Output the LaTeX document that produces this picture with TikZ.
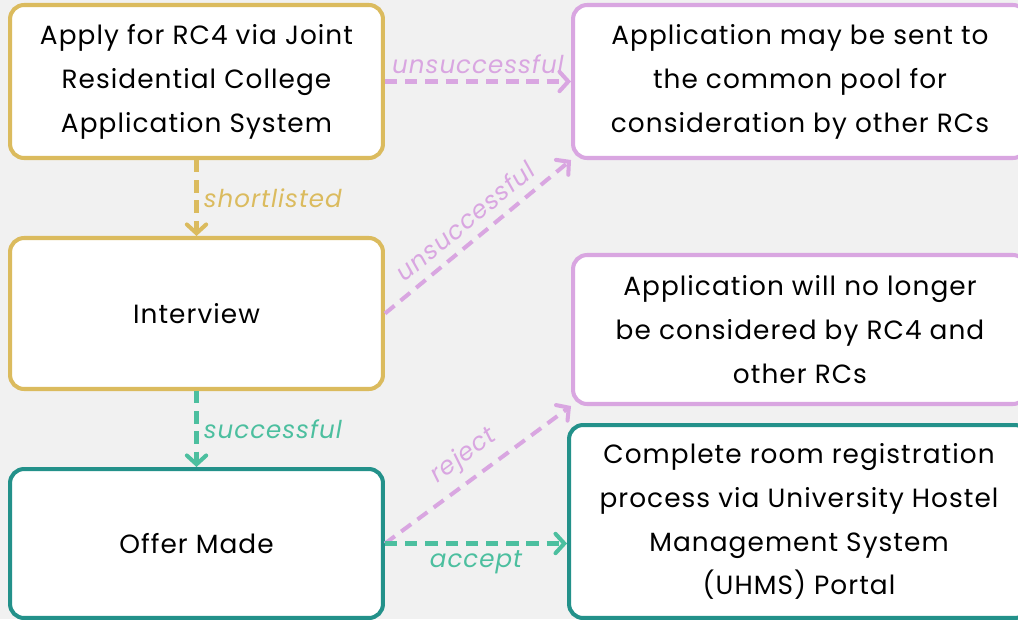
\documentclass[tikz,border=0pt]{standalone}
\usepackage{fontspec}
\setmainfont{Poppins}[LetterSpace=4]
\usetikzlibrary{arrows.meta}
\definecolor{rcgold}{HTML}{DBBB5E}
\definecolor{rcpurple}{HTML}{D9A6E1}
\definecolor{rcteal}{HTML}{23918A}
\definecolor{rcmint}{HTML}{4CBF9F}
\definecolor{rcpaper}{HTML}{F1F1F1}
\tikzset{
  stage/.style={draw=#1, line width=2.3pt, fill=white, rounded corners=8pt, align=center, inner sep=0pt, font=\fontsize{15}{25}\selectfont},
  flow/.style={draw=#1, line width=2.3pt, dash pattern=on 7pt off 4.5pt, -{Straight Barb[length=5pt,width=11pt,line cap=round]}},
  tag/.style={text=#1, inner sep=3pt, font=\fontsize{14}{18}\selectfont\itshape},
}

\begin{document}
\begin{tikzpicture}[x=0.02cm, y=-0.02cm]
\fill[rcpaper] (0,0) rectangle (1018,619);
\useasboundingbox (0,0) rectangle (1018,619);
\clip (0,0) rectangle (1018,619);
% left column
\node[stage=rcgold, minimum width=7.46cm, minimum height=3.06cm] (apply) at (196.5,81.5) {Apply for RC4 via Joint\\Residential College\\Application System};
\node[stage=rcgold, minimum width=7.46cm, minimum height=3.02cm] (interview) at (196.5,313.5) {Interview};
\node[stage=rcteal, minimum width=7.46cm, minimum height=2.98cm] (offer) at (196.5,543.5) {Offer Made};
% right column
\node[stage=rcpurple, minimum width=9.08cm, minimum height=3.06cm] (pool) at (800,81.5) {Application may be sent to\\the common pool for\\consideration by other RCs};
\node[stage=rcpurple, minimum width=9.08cm, minimum height=2.98cm] (nolonger) at (800,329.5) {Application will no longer\\be considered by RC4 and\\other RCs};
\node[stage=rcteal, minimum width=9.2cm, minimum height=3.86cm] (uhms) at (799,521.5) {Complete room registration\\process via University Hostel\\Management System\\(UHMS) Portal};
% arrows
\draw[flow=rcpurple] (apply.east) -- node[tag=rcpurple, above] {unsuccessful} (pool.west);
\draw[flow=rcgold] (apply.south) -- node[tag=rcgold, right] {shortlisted} (interview.north);
\draw[flow=rcpurple] (interview.east) -- node[tag=rcpurple, sloped, above=2pt] {unsuccessful} (pool.south west);
\draw[flow=rcmint] (interview.south) -- node[tag=rcmint, right] {successful} (offer.north);
\draw[flow=rcpurple] (offer.east) -- node[tag=rcpurple, sloped, above=2pt] {reject} (nolonger.south west);
\draw[flow=rcmint] (offer.east) -- node[tag=rcmint, below] {accept} (offer.east -| uhms.west);
\end{tikzpicture}
\end{document}
